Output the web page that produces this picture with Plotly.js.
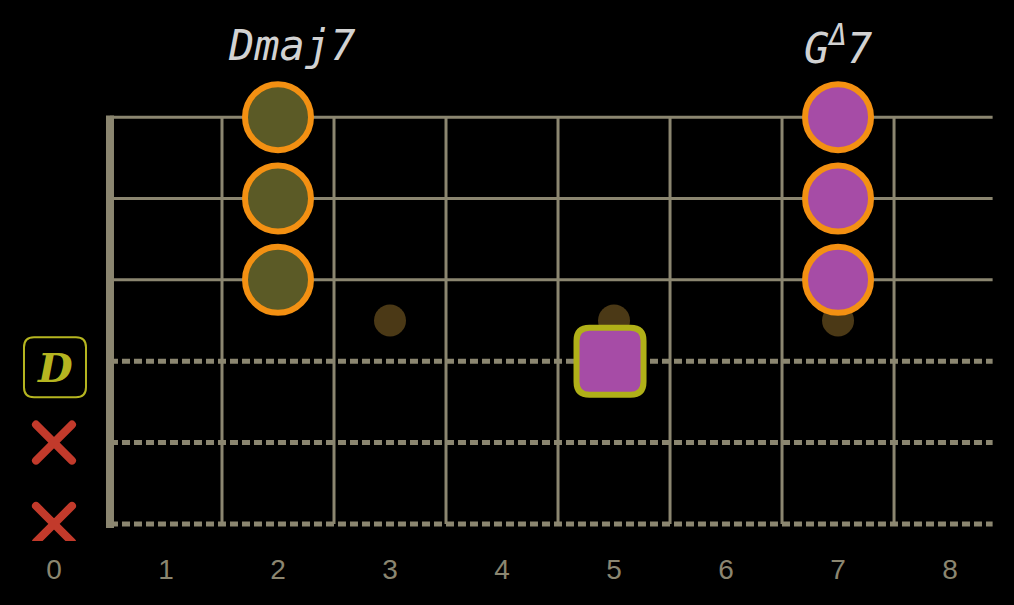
<!DOCTYPE html>
<html>
<head>
<meta charset="utf-8">
<script src="https://cdn.plot.ly/plotly-3.0.1.min.js"></script>
<style>
  html, body { margin: 0; padding: 0; background: #000; }
  #chart { width: 1014px; height: 605px; }
  path.point { stroke-linecap: round; }
</style>
</head>
<body>
<div id="chart"></div>
<script>
// fretboard layout
var stringNums = [1, 2, 3, 4, 5, 6];          // 1 = low E (bottom)
var dashedStrings = [1, 2, 3];
var solidStrings = [4, 5, 6];
var fretWires = [1.5, 2.5, 3.5, 4.5, 5.5, 6.5, 7.5];
var nutPos = 0.5;
var boardEnd = 8.38;
var fretTicks = [0, 1, 2, 3, 4, 5, 6, 7, 8];
var fretTickText = ["0", "1", "2", "3", "4", "5", "6", "7", "8"];

// inlay dots
var inlayFrets = [3, 5, 7];
var inlayString = [3.5, 3.5, 3.5];

// Dmaj7 shape
var dmajFrets = [2, 2, 2];
var dmajStrings = [4, 5, 6];
// G maj7 shape
var gmajFrets = [7, 7, 7];
var gmajStrings = [4, 5, 6];
// root square
var rootFret = [5];
var rootString = [3];
// open / muted strings
var openFret = [0];
var openString = [3];
var openLabel = ["D"];
var mutedFrets = [0, 0];
var mutedStrings = [1, 2];

// chord names
var chordNames = ["Dmaj7", "G<sup>Δ</sup>7"];
var chordX = [2, 7];
var chordY = 6.88;

var wireCol = "#8b8670";

function hLines(ys) {
  var x = [], y = [];
  ys.forEach(function (s) { x.push(nutPos, boardEnd, null); y.push(s, s, null); });
  return {x: x, y: y};
}
function vLines(xs) {
  var x = [], y = [];
  xs.forEach(function (f) { x.push(f, f, null); y.push(1, 6, null); });
  return {x: x, y: y};
}
function roundRect(w, h, r, dx, dy) {
  var a = w / 2, b = h / 2;
  function p(x, y) { return (x + dx) + "," + (y + dy); }
  return "M" + p(-a + r, -b) + " L" + p(a - r, -b) + " Q" + p(a, -b) + " " + p(a, -b + r) +
    " L" + p(a, b - r) + " Q" + p(a, b) + " " + p(a - r, b) +
    " L" + p(-a + r, b) + " Q" + p(-a, b) + " " + p(-a, b - r) +
    " L" + p(-a, -b + r) + " Q" + p(-a, -b) + " " + p(-a + r, -b) + " Z";
}

var frets = vLines(fretWires);
var solid = hLines(solidStrings);
var dashed = hLines(dashedStrings);

var data = [
  {x: frets.x, y: frets.y, mode: "lines", type: "scatter", hoverinfo: "skip",
   line: {color: wireCol, width: 3}},
  {x: solid.x, y: solid.y, mode: "lines", type: "scatter", hoverinfo: "skip",
   line: {color: wireCol, width: 3}},
  {x: dashed.x, y: dashed.y, mode: "lines", type: "scatter", hoverinfo: "skip",
   line: {color: wireCol, width: 5, dash: "8px,4px"}},
  {x: [nutPos, nutPos], y: [0.95, 6.02], mode: "lines", type: "scatter", hoverinfo: "skip",
   line: {color: wireCol, width: 8}},
  {x: inlayFrets, y: inlayString, mode: "markers", type: "scatter",
   marker: {size: 32, color: "#4b3916"}},
  {x: dmajFrets, y: dmajStrings, mode: "markers", type: "scatter",
   marker: {size: 66, color: "#5b5a26", line: {color: "#f39012", width: 6}}},
  {x: gmajFrets, y: gmajStrings, mode: "markers", type: "scatter",
   marker: {size: 66, color: "#a64ca6", line: {color: "#f39012", width: 6}}},
  {x: mutedFrets, y: mutedStrings, mode: "markers", type: "scatter",
   marker: {symbol: "x-thin-open", size: 36, color: "#c23a2b", line: {color: "#c23a2b", width: 8}}}
];

var shapes = [];
rootFret.forEach(function (f, i) {
  shapes.push({type: "path", xref: "x", yref: "y", xsizemode: "pixel", ysizemode: "pixel",
    xanchor: f, yanchor: rootString[i], path: roundRect(67, 67, 13, -4, 0),
    fillcolor: "#a64ca6", line: {color: "#b0b018", width: 6}, layer: "above"});
});
openFret.forEach(function (f, i) {
  shapes.push({type: "path", xref: "x", yref: "y", xsizemode: "pixel", ysizemode: "pixel",
    xanchor: f, yanchor: openString[i], path: roundRect(62, 60, 10, 1, -6),
    fillcolor: "rgba(0,0,0,0)", line: {color: "#b5b520", width: 2}, layer: "above"});
});

var annotations = [];
chordNames.forEach(function (t, i) {
  annotations.push({x: chordX[i], y: chordY, xref: "x", yref: "y", text: t, showarrow: false,
    xshift: i === 0 ? 13 : 0,
    font: {family: "DejaVu Sans Mono", size: 42, color: "#d2d2d2", style: "italic"}});
});
openLabel.forEach(function (t, i) {
  annotations.push({x: openFret[i], y: openString[i], xref: "x", yref: "y", text: t, showarrow: false,
    yshift: -6, xshift: 1,
    font: {family: "DejaVu Serif", size: 40, color: "#b5b520", style: "italic", weight: "bold"}});
});

var layout = {
  width: 1014, height: 605,
  paper_bgcolor: "#000", plot_bgcolor: "#000",
  margin: {l: 0, r: 0, t: 0, b: 64},
  showlegend: false,
  xaxis: {range: [-0.482, 8.571], tickvals: fretTicks, ticktext: fretTickText,
    showgrid: false, zeroline: false, showline: false, ticks: "", fixedrange: true,
    ticklabelstandoff: 9,
    tickfont: {family: "Liberation Sans", size: 28, color: "#8b8670"}},
  yaxis: {range: [0.79, 7.44], visible: false, showgrid: false, zeroline: false, fixedrange: true},
  shapes: shapes,
  annotations: annotations
};

Plotly.newPlot("chart", data, layout, {displayModeBar: false, staticPlot: true});
</script>
</body>
</html>
